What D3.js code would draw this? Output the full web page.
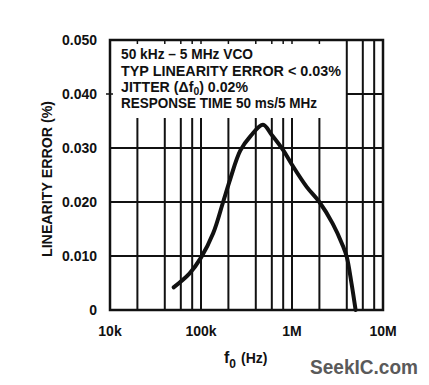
<!DOCTYPE html>
<html lang="en">
<head>
<meta charset="utf-8">
<script src="https://d3js.org/d3.v7.min.js"></script>
<style>
  body { margin: 0; background: #fff; }
  text { font-family: "Liberation Sans", "DejaVu Sans", sans-serif; font-weight: bold; fill: #111; }
</style>
</head>
<body>
<script>
// curve: frequency (kHz) vs linearity error (%)
var freqKHz  = [50, 75, 100, 136, 175, 210, 270, 350, 480, 600, 800, 1000, 1450, 2000, 2800, 3600, 4000, 4500, 5000];
var errorPct = [0.0042, 0.0068, 0.0097, 0.0142, 0.0200, 0.0243, 0.0295, 0.0322, 0.0343, 0.0324, 0.0296, 0.0269, 0.0228, 0.0200, 0.0160, 0.0120, 0.0098, 0.0050, 0.0000];

var yTicks = [0, 0.010, 0.020, 0.030, 0.040, 0.050];
var yTickLabels = ["0", "0.010", "0.020", "0.030", "0.040", "0.050"];
var xTicks = [1e4, 1e5, 1e6, 1e7];
var xTickLabels = ["10k", "100k", "1M", "10M"];
var gridFreqs = [2e4, 4e4, 6e4, 8e4, 1e5, 2e5, 4e5, 6e5, 8e5, 1e6, 2e6, 4e6, 6e6, 8e6];
var notes = ["50 kHz \u2013 5 MHz VCO", "TYP LINEARITY ERROR < 0.03%", "JITTER (\u0394f0) 0.02%", "RESPONSE TIME 50 ms/5 MHz"];

const W = 429, H = 385;
const mLeft = 110, mRight = 383, mTop = 40, mBottom = 310;
const boxRight = 345, boxBottom = 118; // blank area behind the notes

const svg = d3.select("body").append("svg")
  .attr("width", W).attr("height", H);

const x = d3.scaleLog().domain([1e4, 1e7]).range([mLeft, mRight]);
const y = d3.scaleLinear().domain([0, 0.05]).range([mBottom, mTop]);

const ink = "#111";

// vertical grid
svg.append("g").selectAll("line")
  .data(gridFreqs)
  .enter().append("line")
  .attr("x1", d => x(d)).attr("x2", d => x(d))
  .attr("y1", d => x(d) < boxRight ? boxBottom : mTop)
  .attr("y2", mBottom)
  .attr("stroke", ink).attr("stroke-width", 2);

// little ticks hanging from the top edge above the notes
svg.append("g").selectAll("line")
  .data(gridFreqs.filter(d => x(d) < boxRight))
  .enter().append("line")
  .attr("x1", d => x(d)).attr("x2", d => x(d))
  .attr("y1", mTop).attr("y2", mTop + 4)
  .attr("stroke", ink).attr("stroke-width", 1.5);

// horizontal grid
svg.append("g").selectAll("line")
  .data(yTicks.filter(d => d > 0 && d < 0.05))
  .enter().append("line")
  .attr("x1", d => d >= 0.04 ? x(4e6) : mLeft)
  .attr("x2", mRight)
  .attr("y1", d => y(d)).attr("y2", d => y(d))
  .attr("stroke", ink).attr("stroke-width", 2);

// short tick at 0.040 on the left edge
svg.append("line")
  .attr("x1", mLeft - 4).attr("x2", mLeft + 3)
  .attr("y1", y(0.04)).attr("y2", y(0.04))
  .attr("stroke", ink).attr("stroke-width", 1.5);

// frame
svg.append("rect")
  .attr("x", mLeft).attr("y", mTop)
  .attr("width", mRight - mLeft).attr("height", mBottom - mTop)
  .attr("fill", "none").attr("stroke", ink).attr("stroke-width", 2.5);

// y tick labels
svg.append("g").selectAll("text")
  .data(yTicks)
  .enter().append("text")
  .attr("x", 97).attr("y", d => y(d) + 5)
  .attr("text-anchor", "end")
  .attr("font-size", 14)
  .text((d, i) => yTickLabels[i]);

// x tick labels
svg.append("g").selectAll("text")
  .data(xTicks)
  .enter().append("text")
  .attr("x", d => x(d)).attr("y", 336)
  .attr("text-anchor", "middle")
  .attr("font-size", 14)
  .text((d, i) => xTickLabels[i]);

// axis titles
svg.append("text")
  .attr("transform", "translate(52,179) rotate(-90)")
  .attr("text-anchor", "middle")
  .attr("font-size", 14.5)
  .attr("textLength", 156).attr("lengthAdjust", "spacingAndGlyphs")
  .text("LINEARITY ERROR (%)");

const xt = svg.append("text").attr("x", 224).attr("y", 363).attr("font-size", 16);
xt.append("tspan").text("f");
xt.append("tspan").attr("font-size", 12).attr("dy", 5).text("0");
xt.append("tspan").attr("font-size", 14).attr("dx", 5).attr("dy", -5).text("(Hz)");

// notes
const noteWidths = [132, 220, 127, 196];
const noteBase = [59, 75.5, 91.5, 107.5];
notes.forEach(function (t, i) {
  const tx = svg.append("text")
    .attr("x", 121).attr("y", noteBase[i])
    .attr("font-size", 15)
    .attr("textLength", noteWidths[i]).attr("lengthAdjust", "spacingAndGlyphs");
  if (i === 2) {
    tx.append("tspan").text("JITTER (\u0394f");
    tx.append("tspan").attr("font-size", 11).attr("dy", 3).text("0");
    tx.append("tspan").attr("dy", -3).text(") 0.02%");
  } else {
    tx.text(t);
  }
});

// the curve
const pts = freqKHz.map((f, i) => [x(f * 1000), y(errorPct[i])]);
svg.append("path")
  .datum(pts)
  .attr("d", d3.line().curve(d3.curveCatmullRom.alpha(0.5)))
  .attr("fill", "none")
  .attr("stroke", ink)
  .attr("stroke-width", 4)
  .attr("stroke-linecap", "round");

// watermark
svg.append("text")
  .attr("x", 310).attr("y", 374)
  .style("fill", "#5a5a5a")
  .attr("font-size", 20)
  .attr("textLength", 108).attr("lengthAdjust", "spacingAndGlyphs")
  .text("SeekIC.com");
</script>
</body>
</html>
